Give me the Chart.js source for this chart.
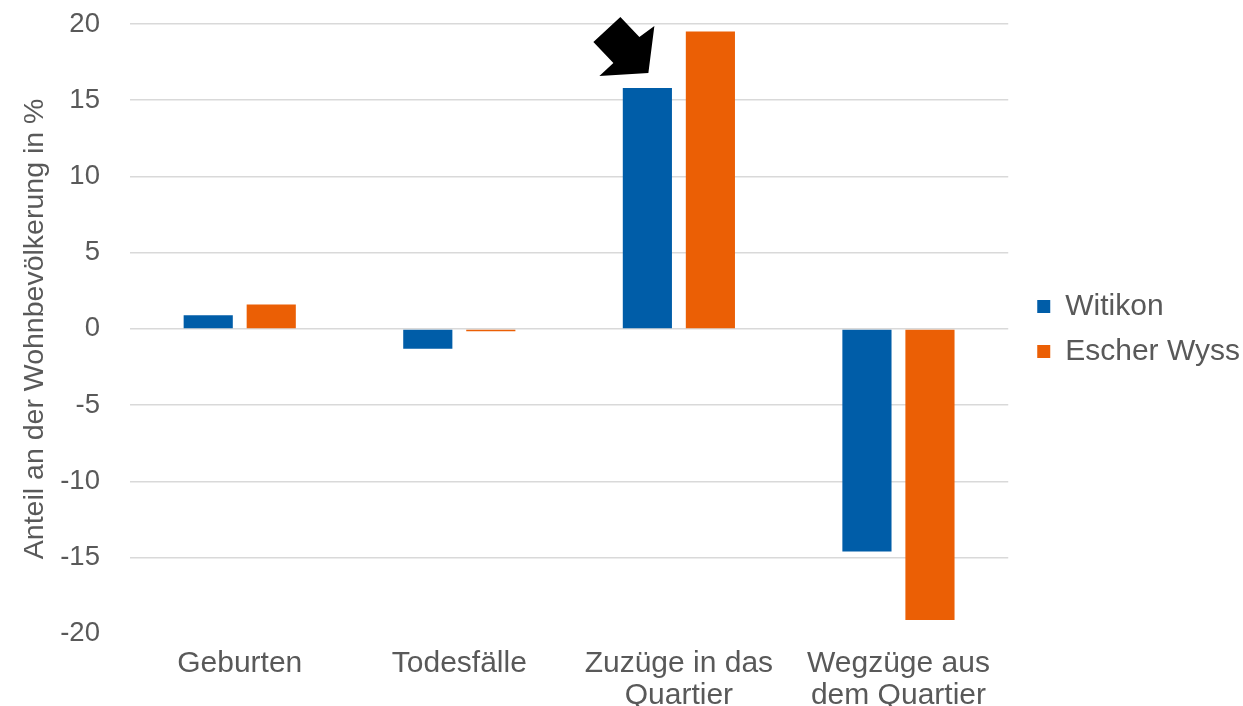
<!DOCTYPE html>
<html>
<head>
<meta charset="utf-8">
<script src="https://cdn.jsdelivr.net/npm/chart.js@4/dist/chart.umd.min.js"></script>
<style>
html,body{margin:0;padding:0;background:#fff;}
#wrap{width:1243px;height:706px;position:relative;}
</style>
</head>
<body>
<div id="wrap"><canvas id="c"></canvas></div>
<script>
const categories = ["Geburten", "Todesfälle", ["Zuzüge in das", "Quartier"], ["Wegzüge aus", "dem Quartier"]];
const witikon = [0.9, -1.3, 15.8, -14.6];
const escherWyss = [1.6, -0.15, 19.5, -19.1];
const seriesNames = ["Witikon", "Escher Wyss"];
const yTicks = [-20, -15, -10, -5, 0, 5, 10, 15, 20];

const arrowPlugin = {
  id: 'arrow',
  afterDatasetsDraw(chart) {
    const bar = chart.getDatasetMeta(0).data[2];
    if (!bar) return;
    const bx = bar.x, by = bar.y;
    const pts = [[-54,-46],[-27,-71],[-8,-51],[7,-62],[1,-15],[-48,-12],[-34,-25]];
    const ctx = chart.ctx;
    ctx.save();
    ctx.beginPath();
    pts.forEach((p,i)=>{ if(i===0) ctx.moveTo(bx+p[0], by+p[1]); else ctx.lineTo(bx+p[0], by+p[1]); });
    ctx.closePath();
    ctx.fillStyle = '#000';
    ctx.fill();
    ctx.restore();
  }
};

const legendShift = {
  id: 'legendShift',
  afterUpdate(chart) {
    const lg = chart.legend;
    if (lg && !lg._shifted) {
      const orig = lg.draw;
      lg.draw = function(...args) {
        const ctx = this.ctx;
        const ca = chart.chartArea;
        const dy = (ca.top + ca.bottom) / 2 - (this.top + this.bottom) / 2;
        ctx.save();
        ctx.translate(14, dy);
        orig.apply(this, args);
        ctx.restore();
      };
      lg._shifted = true;
    }
  }
};

Chart.defaults.font.family = "'Liberation Sans', Arial, sans-serif";
Chart.defaults.color = '#595959';

new Chart(document.getElementById('c'), {
  type: 'bar',
  data: {
    labels: categories,
    datasets: [
      { label: seriesNames[0], data: witikon, backgroundColor: '#005DA8', categoryPercentage: 0.574, barPercentage: 0.78 },
      { label: seriesNames[1], data: escherWyss, backgroundColor: '#EB5F05', categoryPercentage: 0.574, barPercentage: 0.78 }
    ]
  },
  options: {
    responsive: true,
    maintainAspectRatio: false,
    animation: false,
    layout: { padding: { top: 24, right: 7, bottom: -12, left: 18 } },
    plugins: {
      legend: {
        position: 'right',
        labels: { boxWidth: 13, boxHeight: 13, font: { size: 30 }, color: '#595959', padding: 15 }
      },
      tooltip: { enabled: false }
    },
    scales: {
      x: {
        grid: { display: false },
        border: { display: false },
        ticks: { font: { size: 30, lineHeight: 1.07 }, color: '#595959', maxRotation: 0, padding: 6 }
      },
      y: {
        min: -20, max: 20,
        afterBuildTicks(axis) { axis.ticks = yTicks.map(v => ({ value: v })); },
        afterFit(axis) { axis.width += 8; },
        grid: {
          color: (c) => (c.tick && c.tick.value === -20) ? 'rgba(0,0,0,0)' : '#D9D9D9',
          tickColor: 'rgba(0,0,0,0)',
          lineWidth: 1.5,
          drawTicks: true,
          tickLength: 30
        },
        border: { display: false },
        ticks: { font: { size: 27.5 }, color: '#595959', padding: 0 },
        title: { display: true, text: 'Anteil an der Wohnbevölkerung in %', font: { size: 28.5 }, color: '#595959', padding: 0 }
      }
    }
  },
  plugins: [arrowPlugin, legendShift]
});
</script>
</body>
</html>
